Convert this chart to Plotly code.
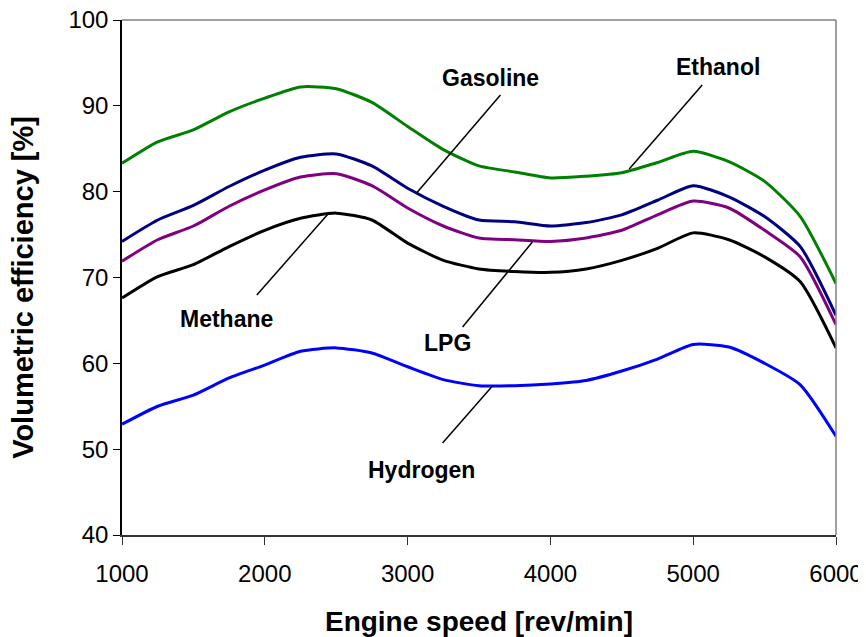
import plotly.graph_objects as go

rpm = [1000, 1250, 1500, 1750, 2000, 2250, 2500, 2750, 3000, 3250, 3500,
       3750, 4000, 4250, 4500, 4750, 5000, 5250, 5500, 5750, 6000]

ethanol = [83.3, 85.8, 87.2, 89.3, 90.9, 92.2, 92.0, 90.4, 87.6, 84.9, 83.0,
           82.3, 81.6, 81.8, 82.2, 83.4, 84.7, 83.5, 81.2, 77.1, 69.3]
gasoline = [74.2, 76.7, 78.4, 80.6, 82.5, 84.0, 84.4, 83.0, 80.4, 78.3, 76.7,
            76.5, 76.0, 76.4, 77.3, 79.0, 80.7, 79.4, 77.1, 73.6, 65.6]
lpg = [71.9, 74.4, 76.0, 78.3, 80.2, 81.7, 82.1, 80.7, 78.1, 76.0, 74.6,
       74.4, 74.2, 74.6, 75.5, 77.3, 78.9, 78.1, 75.5, 72.4, 64.5]
methane = [67.6, 70.1, 71.5, 73.6, 75.5, 76.9, 77.5, 76.7, 74.0, 72.0, 71.0,
           70.7, 70.6, 71.0, 72.0, 73.4, 75.2, 74.4, 72.4, 69.5, 61.8]
hydrogen = [52.9, 55.0, 56.3, 58.3, 59.8, 61.4, 61.8, 61.2, 59.6, 58.1, 57.4,
            57.4, 57.6, 58.0, 59.1, 60.5, 62.2, 61.9, 60.0, 57.5, 51.5]

series_names = ["Ethanol", "Gasoline", "LPG", "Methane", "Hydrogen"]
series_values = [ethanol, gasoline, lpg, methane, hydrogen]
series_colors = ["#008000", "#000080", "#800080", "#000000", "#0000FF"]

# label text positions and leader lines (data coordinates)
label_text = ["Gasoline", "Ethanol", "Methane", "LPG", "Hydrogen"]
label_x = [3580, 5171, 1734, 3276, 3098]
label_y = [93.2, 94.5, 65.2, 62.4, 47.6]
leader_x0 = [3650, 5063, 1944, 3385, 3245]
leader_y0 = [91.26, 92.43, 67.96, 64.23, 50.72]
leader_x1 = [3063, 4552, 2455, 3874, 3594]
leader_y1 = [79.85, 82.64, 77.63, 74.14, 57.36]

x_ticks = [1000, 2000, 3000, 4000, 5000, 6000]
y_ticks = [40, 50, 60, 70, 80, 90, 100]

FONT = "Liberation Sans, Arial"

fig = go.Figure()
for name, vals, col in zip(series_names, series_values, series_colors):
    fig.add_trace(go.Scatter(x=rpm, y=vals, mode="lines", name=name,
                             line=dict(color=col, width=3, shape="spline", smoothing=0.6)))

for x0, y0, x1, y1 in zip(leader_x0, leader_y0, leader_x1, leader_y1):
    fig.add_shape(type="line", x0=x0, y0=y0, x1=x1, y1=y1, xref="x", yref="y",
                  line=dict(color="black", width=1.5))

for t, x, y in zip(label_text, label_x, label_y):
    fig.add_annotation(x=x, y=y, text="<b>%s</b>" % t, showarrow=False,
                       font=dict(family=FONT, size=23, color="black"))

# y-axis title
fig.add_annotation(xref="paper", yref="paper", x=0, y=0.48, xshift=-99,
                   xanchor="center", yanchor="middle", textangle=-90, showarrow=False,
                   text="<b>Volumetric efficiency [%]</b>",
                   font=dict(family=FONT, size=29, color="black"))

# plot-area border (top and right, gray)
fig.add_shape(type="line", xref="paper", yref="paper", x0=0, y0=1, x1=1, y1=1,
              line=dict(color="#808080", width=1.5))
fig.add_shape(type="line", xref="paper", yref="paper", x0=1, y0=0, x1=1, y1=1,
              line=dict(color="#808080", width=1.5))

fig.update_layout(
    width=858, height=629,
    margin=dict(l=114, r=30, t=12, b=102, autoexpand=False),
    paper_bgcolor="white", plot_bgcolor="white",
    showlegend=False,
    font=dict(family=FONT, color="black"),
    xaxis=dict(range=[1000, 6000], tickvals=x_ticks, ticks="outside", ticklen=8,
               tickcolor="#333333", showline=True, linecolor="#333333", linewidth=1.5,
               showgrid=False, zeroline=False, tickfont=dict(size=24),
               ticklabelstandoff=8, ticklabeloverflow="allow",
               title=dict(text="<b>Engine speed [rev/min]</b>", font=dict(size=28), standoff=29)),
    yaxis=dict(range=[40, 100], tickvals=y_ticks, ticks="outside", ticklen=7,
               tickcolor="black", showline=True, linecolor="black", linewidth=1.5,
               showgrid=False, zeroline=False, tickfont=dict(size=24),
               ticklabeloverflow="allow"),
)

fig.write_html("out.html")
